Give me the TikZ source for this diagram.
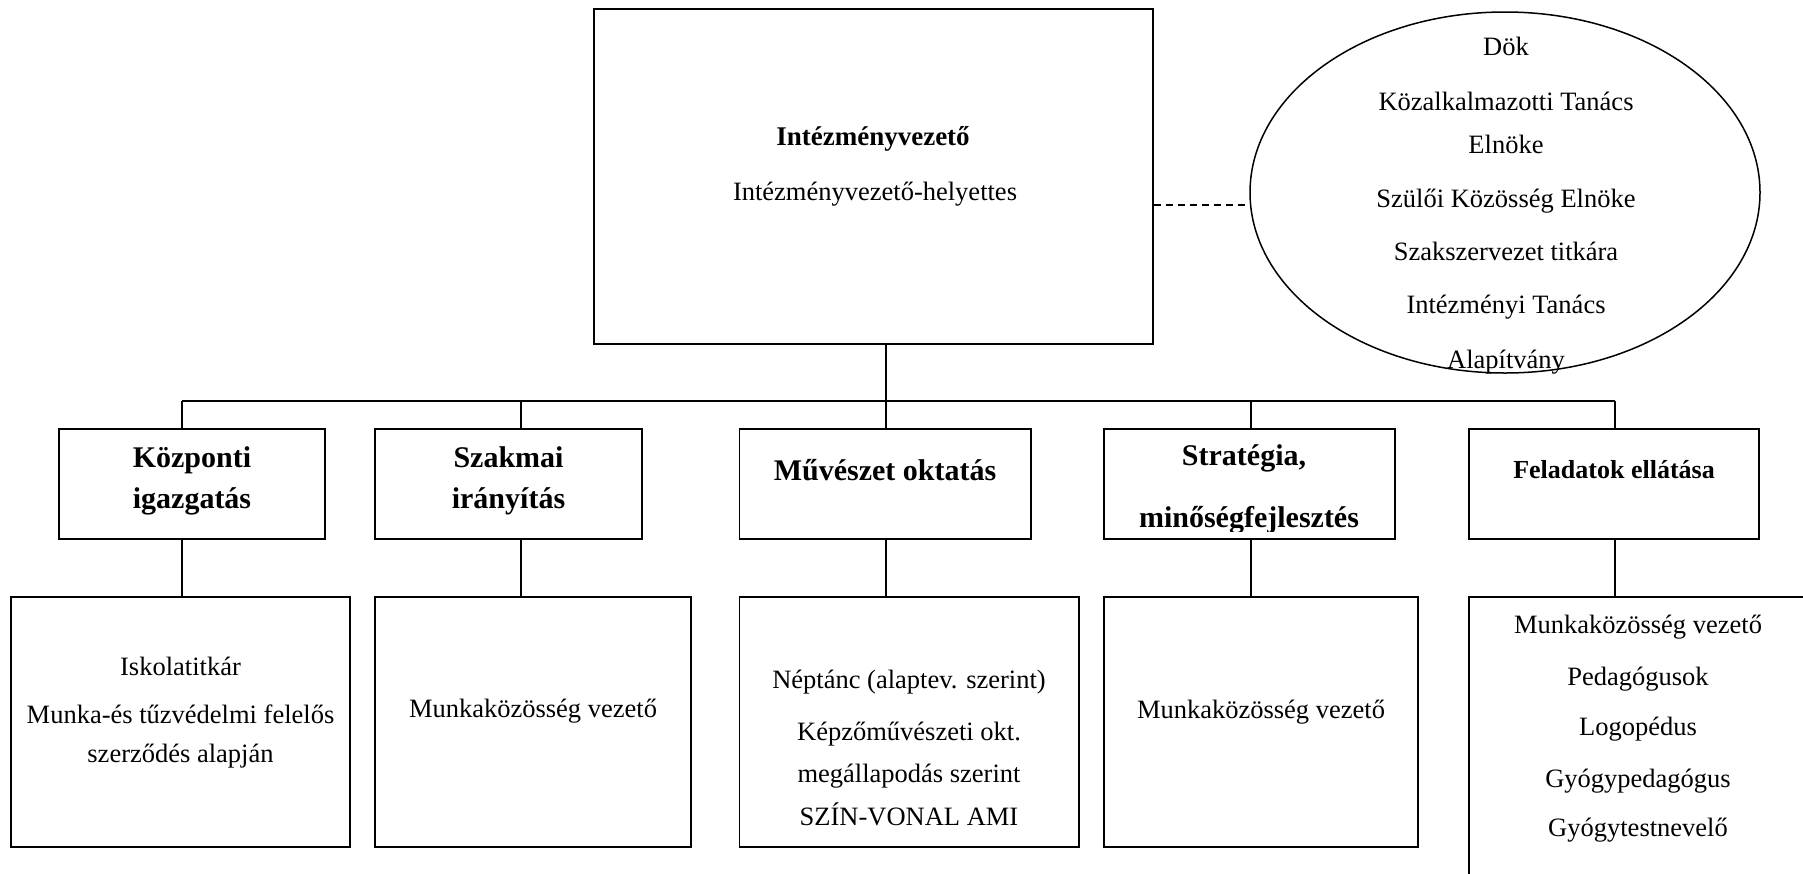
\documentclass[tikz,border=0pt]{standalone}
\usepackage{fontspec}
\setmainfont{Liberation Serif}
\usetikzlibrary{shapes.geometric}
\begin{document}
\begin{tikzpicture}[x=1pt,y=-1pt,
  box/.style={draw, line width=1.5pt, rectangle, inner sep=0pt},
  conn/.style={line width=1.5pt},
  txt/.style={anchor=base, inner sep=0pt, font=\fontsize{26.5}{30}\selectfont},
  hd/.style={anchor=base, inner sep=0pt, font=\fontsize{30}{34}\selectfont\bfseries},
]
\useasboundingbox (0,0) rectangle (1803,873);
\clip (0,0) rectangle (1803,873);

% top box and ellipse
\node[box, minimum width=559pt, minimum height=335pt] (top) at (873.5,176.5) {};
\node[draw, ellipse, line width=1.5pt, inner sep=0pt, minimum width=510pt, minimum height=361pt] (ell) at (1505,192.5) {};

\node[anchor=base, inner sep=0pt, font=\fontsize{27}{30}\selectfont\bfseries] (t1) at (873,145) {Intézményvezető};
\node[txt] (t2) at (875,200) {Intézményvezető-helyettes};

\node[txt] (e1) at (1506,55) {Dök};
\node[txt] (e2) at (1506,110) {Közalkalmazotti Tanács};
\node[txt] (e3) at (1506,153) {Elnöke};
\node[txt] (e4) at (1506,207) {Szülői Közösség Elnöke};
\node[txt] (e5) at (1506,260) {Szakszervezet titkára};
\node[txt] (e6) at (1506,313) {Intézményi Tanács};
\node[txt] (e7) at (1506,368) {Alapítvány};

\coordinate (dl) at (1153,205);
\draw[conn, dash pattern=on 7pt off 5pt] (dl -| top.east) -- (dl -| ell.west);

% level 2 boxes
\node[box, minimum width=266pt, minimum height=110pt] (l2a) at (192,484) {};
\node[box, minimum width=267pt, minimum height=110pt] (l2b) at (508.5,484) {};
\node[box, minimum width=291.5pt, minimum height=110pt] (l2c) at (885,484) {};
\node[box, minimum width=291pt, minimum height=110pt] (l2d) at (1249.5,484) {};
\node[box, minimum width=290pt, minimum height=110pt] (l2e) at (1614,484) {};

% level 3 boxes
\node[box, minimum width=339pt, minimum height=250pt] (l3a) at (180.5,722) {};
\node[box, minimum width=316pt, minimum height=250pt] (l3b) at (533,722) {};
\node[box, minimum width=339.5pt, minimum height=250pt] (l3c) at (909.25,722) {};
\node[box, minimum width=314pt, minimum height=250pt] (l3d) at (1261,722) {};
\node[box, minimum width=341pt, minimum height=303pt] (l3e) at (1639.5,748.5) {};

% connectors
\coordinate (b1) at (182,401);
\coordinate (b2) at (521,401);
\coordinate (b3) at (886,401);
\coordinate (b4) at (1251,401);
\coordinate (b5) at (1615,401);
\draw[conn] (top.south -| b3) -- (b3);
\draw[conn] (b1) -- (b5);
\foreach \b/\s in {b1/a,b2/b,b3/c,b4/d,b5/e}{
  \draw[conn] (\b) -- (\b |- l2\s.north);
  \draw[conn] (\b |- l2\s.south) -- (\b |- l3\s.north);
}

% level 2 texts
\node[hd] (ha1) at (192,467) {Központi};
\node[hd] (ha2) at (192,508) {igazgatás};
\node[hd] (hb1) at (508.5,467) {Szakmai};
\node[hd] (hb2) at (508.5,508) {irányítás};
\node[hd] (hc1) at (885,480) {Művészet oktatás};
\node[hd] (hd1) at (1244,465) {Stratégia,};
\begin{scope}
\clip (1104,429) rectangle (1395,531);
\node[hd] (hd2) at (1249,527) {minőségfejlesztés};
\end{scope}
\node[anchor=base, inner sep=0pt, font=\fontsize{26}{30}\selectfont\bfseries] (he1) at (1614,478) {Feladatok ellátása};

% level 3 texts
\node[txt] (ta1) at (180.5,675) {Iskolatitkár};
\node[txt] (ta2) at (180.5,723) {Munka-és tűzvédelmi felelős};
\node[txt] (ta3) at (180.5,762) {szerződés alapján};
\node[txt] (tb1) at (533,717) {Munkaközösség vezető};
\node[txt] (tc1) at (909,688) {Néptánc (alaptev. szerint)};
\node[txt] (tc2) at (909,740) {Képzőművészeti okt.};
\node[txt] (tc3) at (909,782) {megállapodás szerint};
\node[txt] (tc4) at (909,825) {SZÍN-VONAL AMI};
\node[txt] (td1) at (1261,718) {Munkaközösség vezető};
\node[txt] (te1) at (1638,633) {Munkaközösség vezető};
\node[txt] (te2) at (1638,685) {Pedagógusok};
\node[txt] (te3) at (1638,735) {Logopédus};
\node[txt] (te4) at (1638,787) {Gyógypedagógus};
\node[txt] (te5) at (1638,836) {Gyógytestnevelő};
\end{tikzpicture}
\end{document}
